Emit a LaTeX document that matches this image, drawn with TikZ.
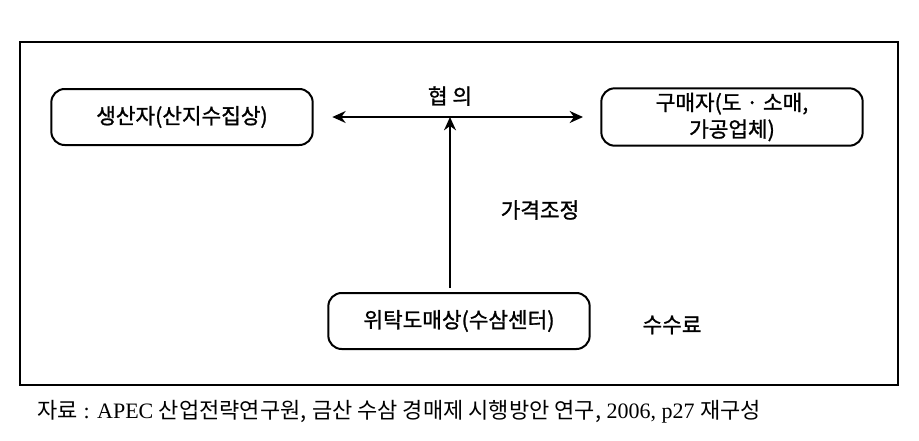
\documentclass[tikz,border=0pt]{standalone}
\usepackage{fontspec}
\setmainfont{Liberation Serif}
\newfontfamily\cjk{Noto Sans CJK KR}
\newfontfamily\cjkmed[FakeBold=1.2]{Noto Sans CJK KR}
\usetikzlibrary{arrows.meta,positioning}
\tikzset{
  party/.style={draw,line width=1.5pt,rounded corners=10pt,minimum width=196pt,minimum height=42pt,align=center,font=\cjkmed\fontsize{16}{20}\selectfont},
  lbl/.style={font=\cjkmed\fontsize{16}{20}\selectfont},
  tip/.style={line width=1.3pt,-{Stealth[length=10pt,width=9pt]}},
  twotip/.style={line width=1.3pt,{Stealth[length=10pt,width=9pt]}-{Stealth[length=10pt,width=9pt]}},
}
\begin{document}
\begin{tikzpicture}[x=0.75pt,y=-0.75pt]
  \useasboundingbox (0,0) rectangle (919,440);

  % frame
  \draw[line width=1.7pt] (20,42) rectangle (898,385);

  \node[party] at (182,117) (prod) {생산자(산지수집상)};
  \node[party] at (732,117) (buyer) {구매자(도 · 소매,\\가공업체)};
  \node[party] at (459,321) (ctr) {위탁도매상(수삼센터)};

  \coordinate (mid) at (450,117);
  \coordinate (foot) at (450,288);

  \draw[twotip,shorten <=14pt,shorten >=13pt] (prod.east) -- (buyer.west);
  \draw[tip] (foot) -- (mid);

  \node[lbl] at (450,96) (talk) {협\ 의};
  \node[lbl] at (540,210) (price) {가격조정};
  \node[lbl] at (672,325) (fee) {수수료};

  \node[anchor=west,font=\fontsize{16.5}{18}\selectfont] at (33,412) (src) {{\cjk 자료} : APEC {\cjk 산업전략연구원,} {\cjk 금산 수삼 경매제 시행방안 연구,} 2006, p27 {\cjk 재구성}};
\end{tikzpicture}
\end{document}
